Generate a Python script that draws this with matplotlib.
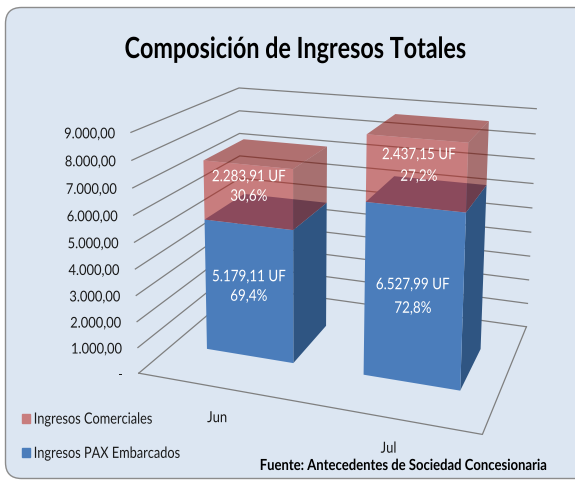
import numpy as np
import matplotlib
matplotlib.use('Agg')
import matplotlib.pyplot as plt
from matplotlib.patches import FancyBboxPatch, Patch
from matplotlib.patheffects import AbstractPathEffect
from matplotlib.transforms import Affine2D

plt.rcParams['font.family'] = ['Lato', 'DejaVu Sans']

# === Data ===
meses = ['Jun', 'Jul']
ingresos_pax = [5179.11, 6527.99]
ingresos_comerciales = [2283.91, 2437.15]
pax_labels = ['5.179,11 UF\n69,4%', '6.527,99 UF\n72,8%']
com_labels = ['2.283,91 UF\n30,6%', '2.437,15 UF\n27,2%']
y_ticks = [0, 1000, 2000, 3000, 4000, 5000, 6000, 7000, 8000, 9000]
y_labels = ['-', '1.000,00', '2.000,00', '3.000,00', '4.000,00', '5.000,00',
            '6.000,00', '7.000,00', '8.000,00', '9.000,00']

# === Perspective camera: fitted from the corners of the chart box ===
# (category position, depth 0-1, value) -> pixel
corners = [((0, 0, 0), (140, 374)), ((0, 0, 9000), (130, 133)),
           ((0, 1, 9000), (240, 89)), ((2, 1, 9000), (536, 110)),
           ((2, 1, 0), (527, 327)), ((2, 0, 0), (482, 436)),
           ((0, 1, 0), (240, 288))]
rows = []
for (x, d, v), (px, py) in corners:
    w = [x, d, v / 9000, 1]
    rows.append(w + [0, 0, 0, 0] + [-px * k for k in w])
    rows.append([0, 0, 0, 0] + w + [-py * k for k in w])
cam = np.linalg.svd(np.array(rows, float))[2][-1].reshape(3, 4)


def proj(x, d, v):
    q = cam @ np.array([x, d, v / 9000, 1])
    return q[0] / q[2], q[1] / q[2]


def face(ax, pts, **kw):
    xy = [proj(*p) for p in pts]
    ax.fill([a for a, b in xy], [b for a, b in xy], linewidth=0, **kw)


class Squeeze(AbstractPathEffect):
    # the original text is a narrow font, so narrow the glyphs around x=cx
    def __init__(self, sx, cx):
        super().__init__()
        self.sx, self.cx = sx, cx

    def draw_path(self, renderer, gc, tpath, affine, rgbFace=None):
        t = affine + Affine2D().translate(-self.cx, 0).scale(self.sx, 1).translate(self.cx, 0)
        renderer.draw_path(gc, tpath, t, rgbFace)


def label(ax, x, y, s, sx, **kw):
    t = ax.text(x, y, s, va='center', zorder=6, **kw)
    t.set_path_effects([Squeeze(sx, x)])
    return t


fig = plt.figure(figsize=(5.75, 4.81), facecolor='white')
ax = fig.add_axes([0, 0, 1, 1])
ax.set_xlim(0, 575)
ax.set_ylim(481, 0)
ax.axis('off')

ax.add_patch(FancyBboxPatch((5.5, 8.5), 590, 471, boxstyle='round,pad=0,rounding_size=16',
                            facecolor='#DCE6F2', edgecolor='#8C8C8C', linewidth=1.0, zorder=0))

label(ax, 295, 51, 'Composición de Ingresos Totales', 0.8, fontsize=21, fontweight='bold',
      ha='center', color='black')

# Grid lines on side wall and back wall
grid = '#7F7F7F'
for v, lab in zip(y_ticks, y_labels):
    xy = [proj(0, 0, v), proj(0, 1, v), proj(2, 1, v)]
    ax.plot([a for a, b in xy], [b for a, b in xy], color=grid, lw=0.9, zorder=1)
    label(ax, xy[0][0] - 16, xy[0][1] + 2, lab, 0.87, fontsize=10.7, ha='right', color='#1A1A1A')
xy = [proj(0, 0, 0), proj(2, 0, 0), proj(2, 1, 0)]
ax.plot([a for a, b in xy], [b for a, b in xy], color=grid, lw=0.9, zorder=1)

# Bars
d0, d1 = 0.3, 0.7
pax_pos = [(249, 288), (413, 298)]
com_pos = [(249, 188), (419, 167)]
pax_space = [1.5, 1.87]
com_space = [1.5, 1.7]
for i, mes in enumerate(meses):
    x0, x1 = i + 0.225, i + 0.79
    v0 = ingresos_pax[i]
    v1 = v0 + ingresos_comerciales[i]
    # blue part
    face(ax, [(x0, d0, v0), (x1, d0, v0), (x1, d1, v0), (x0, d1, v0)], color='#5675A6', zorder=2)
    face(ax, [(x1, d0, 0), (x1, d1, 0), (x1, d1, v0), (x1, d0, v0)], color='#2F5582', zorder=2)
    face(ax, [(x0, d0, 0), (x1, d0, 0), (x1, d0, v0), (x0, d0, v0)], color='#4B7DBB', zorder=2)
    # translucent commercial part on top
    face(ax, [(x0, d0, v1), (x1, d0, v1), (x1, d1, v1), (x0, d1, v1)], color='#8C0F05', alpha=0.55, zorder=3)
    face(ax, [(x1, d0, v0), (x1, d1, v0), (x1, d1, v1), (x1, d0, v1)], color='#7D0F05', alpha=0.55, zorder=3)
    face(ax, [(x0, d0, v0), (x1, d0, v0), (x1, d0, v1), (x0, d0, v1)], color='#B8271F', alpha=0.55, zorder=3)

    px, py = proj(i + 0.5, 0, 0)
    label(ax, px, py + 31, mes, 0.85, fontsize=11, ha='center', color='#1A1A1A')

    label(ax, pax_pos[i][0], pax_pos[i][1], pax_labels[i], 0.84, fontsize=11.5, color='white',
          ha='center', linespacing=pax_space[i])
    label(ax, com_pos[i][0], com_pos[i][1], com_labels[i], 0.84, fontsize=11.5, color='white',
          ha='center', linespacing=com_space[i])

leg = ax.legend(handles=[Patch(color='#C87D7E', label='Ingresos Comerciales'),
                         Patch(color='#4B7DBB', label='Ingresos PAX Embarcados')],
                loc='upper left', bbox_to_anchor=(22 / 575, 0.14), frameon=False, fontsize=11.2,
                labelspacing=1.3, handlelength=0.5, handleheight=0.5, handletextpad=0.25,
                borderpad=0, borderaxespad=0, labelcolor='#1A1A1A')
for t in leg.get_texts():
    t.set_path_effects([Squeeze(0.82, 34)])

label(ax, 403, 467, 'Fuente: Antecedentes de Sociedad Concesionaria', 0.855, fontsize=11, fontweight='bold',
      ha='center', color='black')

fig.savefig('out.png', dpi=100, facecolor='white')
